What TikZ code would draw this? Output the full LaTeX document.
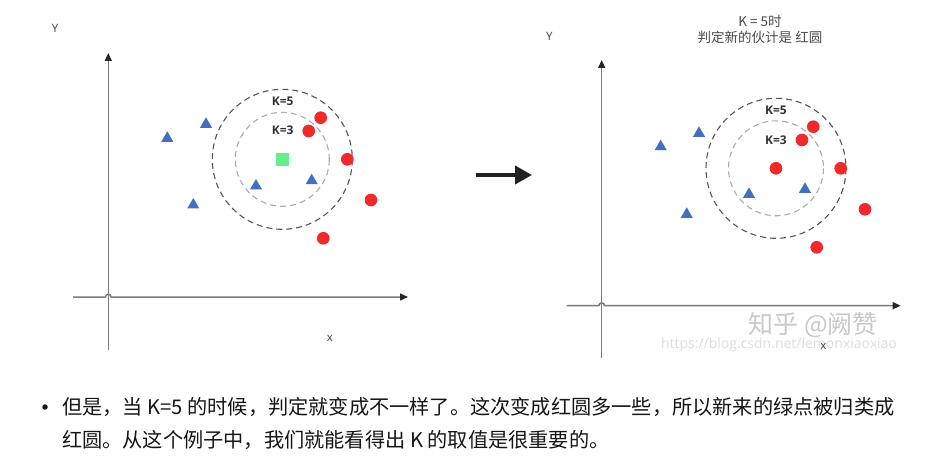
\documentclass[tikz,border=0pt]{standalone}
\usepackage{fontspec}
\setmainfont{Noto Sans CJK SC}
\newfontfamily\labelfont{Open Sans}
\usetikzlibrary{positioning, arrows.meta, shapes.geometric}
\definecolor{ptred}{HTML}{F02A2A}
\definecolor{ptblue}{HTML}{4270C0}
\definecolor{ptgreen}{HTML}{66EE8C}
\definecolor{axisgray}{HTML}{7A7A7A}
\definecolor{ringdark}{HTML}{555555}
\definecolor{ringlight}{HTML}{ABABAB}
\definecolor{wmgray}{HTML}{C9C9C9}
\definecolor{wmlight}{HTML}{DDDDDD}
\definecolor{bodyink}{HTML}{161616}

\begin{document}
\begin{tikzpicture}[
  x=1pt, y=-1pt,
  redpt/.style={circle, fill=ptred, minimum size=12.7pt, inner sep=0pt},
  bluept/.style={regular polygon, regular polygon sides=3, fill=ptblue,
                 minimum size=14pt, inner sep=0pt},
  newpt/.style={rectangle, fill=ptgreen, minimum size=13pt, inner sep=0pt},
  axis/.style={draw=axisgray, line width=1.5pt,
               -{Triangle[length=8pt, width=7pt, color=black!85]}},
  outerring/.style={draw=ringdark, dash pattern=on 6pt off 4pt, line width=1.1pt},
  innerring/.style={draw=ringlight, dash pattern=on 6pt off 4pt, line width=1.1pt},
  klabel/.style={font=\labelfont\bfseries\fontsize{12}{14}\selectfont, text=black!80, inner sep=0pt},
  axlabel/.style={font=\labelfont\fontsize{11.5}{13}\selectfont, text=black!75, inner sep=0pt},
  bodytext/.style={font=\fontsize{20.2}{24}\selectfont, text=bodyink, inner sep=0pt, anchor=west},
]
  \fill[white] (0,0) rectangle (948,473);
  \useasboundingbox (0,0) rectangle (948,473);

  % left panel: K=3 / K=5 around the new point
  \coordinate (lo) at (108.3,297);
  \coordinate (ly0) at (108.3,350);
  \coordinate (ly1) at (108.3,53);
  \coordinate (lx0) at (73,297);
  \coordinate (lx1) at (408,297);
  \draw[axis] (ly0) -- (ly1);
  \draw[axis] (lx0) -- ([xshift=-2.8pt]lo) arc[start angle=180, end angle=360, radius=2.8] -- (lx1);
  \node[axlabel] (lylab) at (55,28) {Y};
  \node[axlabel] (lxlab) at (330,338) {x};

  \node[newpt] (lq) at (282.3,159.3) {};
  \draw[outerring] (lq) circle[radius=70];
  \draw[innerring] (lq) circle[radius=47];
  \node[klabel] (lk5) at (282.7,101.7) {K=5};
  \node[klabel] (lk3) at (282.7,130.7) {K=3};

  \foreach \p [count=\i] in {(167.3,138.3), (206,124.3), (193.3,205), (256,186), (311.7,180.7)}
    \node[bluept] (lt\i) at \p {};
  \foreach \p [count=\i] in {(320.7,117.7), (308.7,131), (347.3,159.3), (371,200), (323.3,238.3)}
    \node[redpt] (lr\i) at \p {};

  % arrow between the panels
  \coordinate (arrS) at (476,175);
  \coordinate (arrE) at (532,175);
  \draw[line width=4pt, color=black!87, -{Triangle[length=17pt, width=18pt]}] (arrS) -- (arrE);

  % right panel: the new point is now a red circle
  \node[font=\fontsize{13.5}{16}\selectfont, text=black!70, align=center] (title)
    at (760,29.5) {K = 5时\\判定新的伙计是 红圆};
  \coordinate (ro) at (601.7,305.7);
  \coordinate (ry0) at (601.7,358);
  \coordinate (ry1) at (601.7,60);
  \coordinate (rx0) at (566.7,305.7);
  \coordinate (rx1) at (900.7,305.7);
  \draw[axis] (ry0) -- (ry1);
  \draw[axis] (rx0) -- ([xshift=-2.8pt]ro) arc[start angle=180, end angle=360, radius=2.8] -- (rx1);
  \node[axlabel] (rylab) at (549.3,36.7) {Y};

  \node[redpt] (rq) at (776,168.3) {};
  \draw[outerring] (rq) circle[radius=70];
  \draw[innerring] (rq) circle[radius=47.5];
  \node[klabel] (rk5) at (776,110.7) {K=5};
  \node[klabel] (rk3) at (776,140) {K=3};

  \foreach \p [count=\i] in {(660.7,146.7), (699,133.3), (686.7,214.3), (749,194.3), (805,189.3)}
    \node[bluept] (rt\i) at \p {};
  \foreach \p [count=\i] in {(813.3,126.7), (802,140), (840.7,168.3), (865,209.3), (816.7,247.3)}
    \node[redpt] (rr\i) at \p {};

  % watermark
  \node[font=\fontsize{25}{28}\selectfont, text=wmgray] (wm) at (813.3,325) {知乎 @阙赞};
  \node[font=\labelfont\fontsize{14}{16}\selectfont, text=wmlight] (url) at (779,344.5)
    {https://blog.csdn.net/lemonxiaoxiao};
  \node[axlabel] (rxlab) at (823.3,346.7) {x};

  % caption below
  \node[circle, fill=bodyink, minimum size=5.5pt, inner sep=0pt] (bul) at (45,407) {};
  \node[bodytext] (line1) at (62,407)
    {但是，当 K=5 的时候，判定就变成不一样了。这次变成红圆多一些，所以新来的绿点被归类成};
  \node[bodytext] (line2) at (62,440)
    {红圆。从这个例子中，我们就能看得出 K 的取值是很重要的。};
\end{tikzpicture}
\end{document}
